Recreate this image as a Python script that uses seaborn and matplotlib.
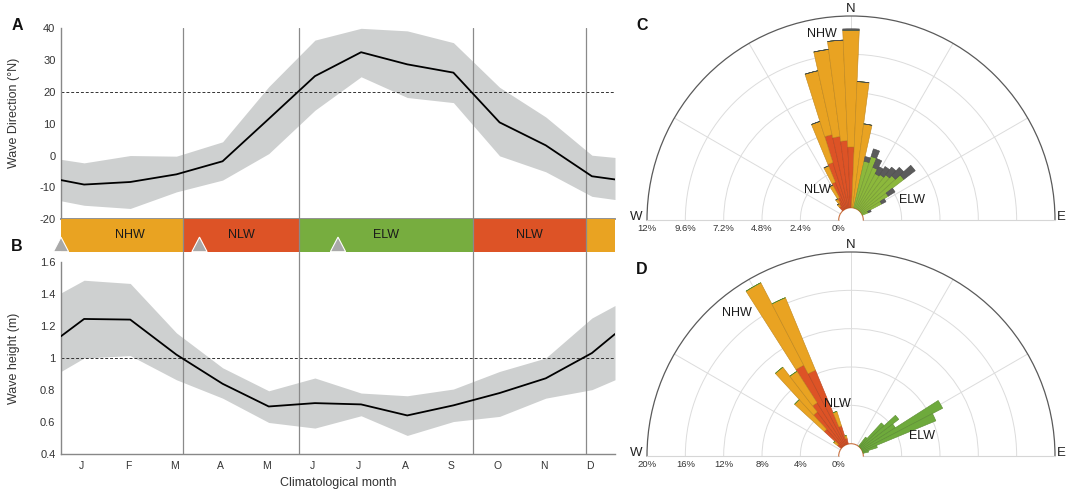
import numpy as np
import pandas as pd
import matplotlib
matplotlib.use("Agg")
import matplotlib.pyplot as plt
import seaborn as sns
from matplotlib.patches import Polygon
from matplotlib.transforms import offset_copy

# ---------------- data ----------------
month_labels = ["J", "F", "M", "A", "M", "J", "J", "A", "S", "O", "N", "D"]

# monthly wave direction (deg N): mean and spread envelope
dir_mean = [-9.1, -8.3, -5.9, -1.8, 11.5, 24.9, 32.4, 28.6, 26.0, 10.4, 3.2, -6.5]
dir_upper = [-2.3, 0.0, -0.2, 4.3, 21.6, 36.2, 39.9, 39.1, 35.4, 21.4, 12.1, 0.1]
dir_lower = [-15.6, -16.6, -11.4, -7.7, 0.6, 14.2, 24.7, 18.2, 16.6, -0.1, -5.1, -12.8]
# values at the turn of the year (start, end)
dir_mean_ends = [-7.7, -7.5]
dir_upper_ends = [-1.2, -0.6]
dir_lower_ends = [-14.2, -13.8]

# monthly wave height (m): mean and spread envelope
ht_mean = [1.244, 1.240, 1.021, 0.839, 0.697, 0.718, 0.710, 0.641, 0.704, 0.781, 0.873, 1.031]
ht_upper = [1.486, 1.466, 1.157, 0.939, 0.795, 0.875, 0.781, 0.764, 0.806, 0.916, 1.000, 1.250]
ht_lower = [1.000, 1.015, 0.864, 0.749, 0.597, 0.562, 0.639, 0.516, 0.603, 0.635, 0.749, 0.802]
ht_mean_ends = [1.136, 1.150]
ht_upper_ends = [1.407, 1.328]
ht_lower_ends = [0.916, 0.864]

dir_threshold = 20
ht_threshold = 1.0

# wave-climate seasons (month boundaries)
season_bounds = [2.64, 5.16, 8.93, 11.37]
season_names = ["NHW", "NLW", "ELW", "NLW", "NHW"]
season_label_pos = [1.5, 3.9, 7.05, 10.15]
season_markers = [0, 3, 6]

# directional roses, 5-degree bins (percent of time)
c_angles = [-40, -35, -30, -25, -20, -15, -10, -5, 0, 5, 10,
            15, 20, 25, 30, 35, 40, 45, 50, 55, 60, 65]
c_nlw = [0.3, 0.5, 0.8, 1.8, 3.0, 4.7, 4.5, 4.2, 3.8, 0, 0,
         0, 0, 0, 0, 0, 0, 0, 0, 0, 0, 0]
c_nhw = [0.2, 0.3, 0.9, 1.1, 2.7, 4.1, 5.5, 6.3, 7.3, 7.9, 5.3,
         0, 0, 0, 0, 0, 0, 0, 0, 0, 0, 0]
c_elw = [0, 0, 0, 0, 0, 0, 0, 0, 0, 0, 0,
         3.0, 3.4, 2.8, 2.5, 2.6, 2.8, 3.0, 3.4, 2.0, 1.4, 0.4]
c_other = [0, 0, 0, 0, 0, 0, 0, 0, 0.1, 0, 0,
           0.3, 0.5, 0.6, 0.5, 0.6, 0.6, 0.7, 0.9, 0.5, 0.3, 0.2]

d_angles = [-50, -45, -40, -35, -30, -25, -20, -15,
            40, 45, 50, 55, 60, 65, 70, 75]
d_nlw = [0.5, 2.5, 4.5, 5.3, 9.4, 8.4, 2.0, 0.6,
         0, 0, 0, 0, 0, 0, 0, 0]
d_nhw = [0.5, 4.2, 5.9, 3.9, 9.7, 8.2, 1.6, 0.3,
         0, 0, 0, 0, 0, 0, 0, 0]
d_elw = [0, 0, 0, 0, 0, 0, 0, 0,
         1.2, 3.4, 5.0, 4.2, 9.5, 8.3, 1.6, 0.6]

c_rticks = [12, 9.6, 7.2, 4.8, 2.4, 0]
d_rticks = [20, 16, 12, 8, 4, 0]

# ---------------- style ----------------
sns.set_theme(style="white")
plt.rcParams["font.family"] = ["Liberation Sans", "DejaVu Sans"]
plt.rcParams["axes.unicode_minus"] = False

ORANGE = "#E9A322"
RED = "#DD5326"
GREEN = "#77AD3F"
GREEN_C = "#8CB83C"
GREEN_D = "#6EAA3C"
DARK = "#5B5B5B"
ENVELOPE = "#CED0D0"
AXCOL = "#888888"
TXT = "#333333"
season_colors = {"NHW": ORANGE, "NLW": RED, "ELW": GREEN}

W, H = 1067, 490
fig = plt.figure(figsize=(W / 100, H / 100), dpi=100)


def fx(px):
    return px / W


def fy(py):
    return 1 - py / H


x_left, x_right = 61, 615
aw = fx(x_right) - fx(x_left)
axA = fig.add_axes([fx(x_left), fy(219.3), aw, (219.3 - 28) / H])
axS = fig.add_axes([fx(x_left), fy(251.7), aw, (251.7 - 219.3) / H])
axB = fig.add_axes([fx(x_left), fy(454), aw, (454 - 251.7) / H])

mid = np.arange(12) + 0.5
pos = np.concatenate([[0], mid, [12]])


def series(vals, ends):
    return np.concatenate([[ends[0]], vals, [ends[1]]])


df_dir = pd.DataFrame({"pos": pos,
                       "mean": series(dir_mean, dir_mean_ends),
                       "upper": series(dir_upper, dir_upper_ends),
                       "lower": series(dir_lower, dir_lower_ends)})
df_ht = pd.DataFrame({"pos": pos,
                      "mean": series(ht_mean, ht_mean_ends),
                      "upper": series(ht_upper, ht_upper_ends),
                      "lower": series(ht_lower, ht_lower_ends)})

for ax, df, thr in [(axA, df_dir, dir_threshold), (axB, df_ht, ht_threshold)]:
    ax.fill_between(df["pos"], df["lower"], df["upper"], color=ENVELOPE, lw=0, zorder=1)
    sns.lineplot(data=df, x="pos", y="mean", ax=ax, color="black", lw=1.3, zorder=3)
    ax.axhline(thr, color="#333333", lw=0.7, ls=(0, (3, 2)), zorder=2)
    for b in season_bounds:
        ax.axvline(b, color="#8a8a8a", lw=0.9, zorder=2)
    ax.set_xlim(0, 12)
    ax.set_xlabel("")
    for s in ["top", "right"]:
        ax.spines[s].set_visible(False)
    for s in ["left", "bottom"]:
        ax.spines[s].set_color(AXCOL)
        ax.spines[s].set_linewidth(1.0)
    ax.set_xticks(np.arange(1, 12))
    ax.set_xticklabels([])
    ax.tick_params(axis="x", which="major", direction="in", length=5, color=AXCOL, width=0.9)
    ax.tick_params(axis="y", direction="in", length=3, color=AXCOL, width=0.8,
                   labelsize=8, labelcolor=TXT, pad=4)

# panel A
axA.set_ylim(-20, 40)
axA.set_yticks(np.arange(-20, 41, 10))
axA.spines["bottom"].set_linewidth(1.3)
axA.set_ylabel("Wave Direction (°N)", fontsize=9, color=TXT)
axA.yaxis.set_label_coords(-0.074, 0.556)

# panel B
axB.set_ylim(0.4, 1.6 + 10.3 / 160)
axB.spines["left"].set_bounds(0.4, 1.6)
bt = [0.4, 0.6, 0.8, 1.0, 1.2, 1.4, 1.6]
axB.set_yticks(bt)
axB.set_yticklabels([f"{v:g}" for v in bt])
axB.set_ylabel("Wave height (m)", fontsize=9, color=TXT)
axB.yaxis.set_label_coords(-0.074, 0.475)
axB.set_xticks(np.arange(12) + 0.45, minor=True)
axB.set_xticklabels(month_labels, minor=True)
axB.tick_params(axis="x", which="minor", length=0, labelsize=7.5, labelcolor=TXT, pad=5)

# season strip
edges = [0] + season_bounds + [12]
for i, name in enumerate(season_names):
    axS.axvspan(edges[i], edges[i + 1], color=season_colors[name], lw=0)
for p, name in zip(season_label_pos, season_names):
    axS.text(p, 0.5, name, ha="center", va="center", fontsize=9, color="#1a1a1a")
for b in season_bounds:
    axS.axvline(b, color="#8a8a8a", lw=0.9)
for m in season_markers:
    axS.add_patch(Polygon([(m - 0.165, 0), (m + 0.165, 0), (m, 0.45)], closed=True,
                          facecolor="#A9A9A9", edgecolor="white", lw=0.8,
                          clip_on=False, zorder=5))
axS.set_xlim(0, 12)
axS.set_ylim(0, 1)
axS.axis("off")

fig.text(fx(338), 0.003, "Climatological month", ha="center", va="bottom",
         fontsize=9, color=TXT)
for lab, (px, py) in {"A": (17, 26), "B": (17, 246)}.items():
    fig.text(fx(px), fy(py), lab, ha="center", va="center", fontsize=11.5,
             fontweight="bold", color="#111111")


# ---------------- roses ----------------
R_PX, HOLE_PX = 204.0, 12.3


def darker(c, f=0.82):
    r, g, b = matplotlib.colors.to_rgb(c)
    return (r * f, g * f, b * f)


def rose(ax, rmax, rticks, layers, cy):
    ax.set_theta_zero_location("N")
    ax.set_theta_direction(-1)
    ax.set_thetamin(-90)
    ax.set_thetamax(90)
    ax.set_ylim(0, rmax)
    ax.set_rorigin(-rmax * HOLE_PX / (R_PX - HOLE_PX))
    ax.set_axisbelow(True)
    ax.grid(True, color="#dcdcdc", lw=0.7)
    ax.set_thetagrids([-60, -30, 0, 30, 60], labels=[""] * 5)
    ax.set_rgrids([t for t in rticks if 0 < t < rmax], labels=[""] * (len(rticks) - 2))
    ax.spines["polar"].set_color("#5a5a5a")
    ax.spines["polar"].set_linewidth(0.9)
    for s in ["start", "end"]:
        ax.spines[s].set_color("#d6d6d6")
        ax.spines[s].set_linewidth(0.8)
    ax.spines["inner"].set_color("#c8703f")
    ax.spines["inner"].set_linewidth(0.8)
    ax.tick_params(axis="both", length=0)
    ax.set_facecolor("white")
    width = np.deg2rad(5)
    for angles, stack in layers:
        th = np.deg2rad(angles)
        base = np.zeros(len(angles))
        for vals, col in stack:
            v = np.asarray(vals, float)
            ax.bar(th, v, width=width, bottom=base, color=col,
                   edgecolor=darker(col), lw=0.4, zorder=3)
            base = base + v
    off = offset_copy(ax.transData, fig=fig, x=0, y=-4, units="dots")
    for t in rticks:
        ax.text(np.deg2rad(-90), t, f"{t:g}%", transform=off, ha="center", va="top",
                fontsize=6.8, color=TXT)
    fig.text(fx(851), fy(cy - 211), "N", ha="center", va="center", fontsize=9.5, color="#222")
    fig.text(fx(636), fy(cy - 3), "W", ha="center", va="center", fontsize=9.5, color="#222")
    fig.text(fx(1061), fy(cy - 3), "E", ha="center", va="center", fontsize=9.5, color="#222")


def rose_axes(cx, cy):
    # square box whose middle band holds the upper half-disc of radius R_PX
    side = 2 * R_PX
    top = cy - R_PX - R_PX / 2
    return fig.add_axes([fx(cx - R_PX), fy(top + side), side / W, side / H],
                        projection="polar")


axC = rose_axes(851, 220)
rose(axC, 12, c_rticks,
     [(c_angles, [(c_nlw, RED), (c_nhw, ORANGE), (c_elw, GREEN_C), (c_other, DARK)])],
     220)
axD = rose_axes(851, 456)
rose(axD, 20, d_rticks,
     [(d_angles, [(d_nlw, RED), (d_nhw, ORANGE), (d_elw, GREEN_D)])],
     456)

for lab, px, py in [("NHW", 822, 34), ("NLW", 817, 190), ("ELW", 912, 200),
                    ("NHW", 737, 313), ("NLW", 837, 404), ("ELW", 922, 436)]:
    fig.text(fx(px), fy(py), lab, ha="center", va="center", fontsize=9, color="#1a1a1a")
for lab, (px, py) in {"C": (642, 25), "D": (642, 269)}.items():
    fig.text(fx(px), fy(py), lab, ha="center", va="center", fontsize=11.5,
             fontweight="bold", color="#111111")

fig.savefig("out.png", dpi=100, facecolor="white")
